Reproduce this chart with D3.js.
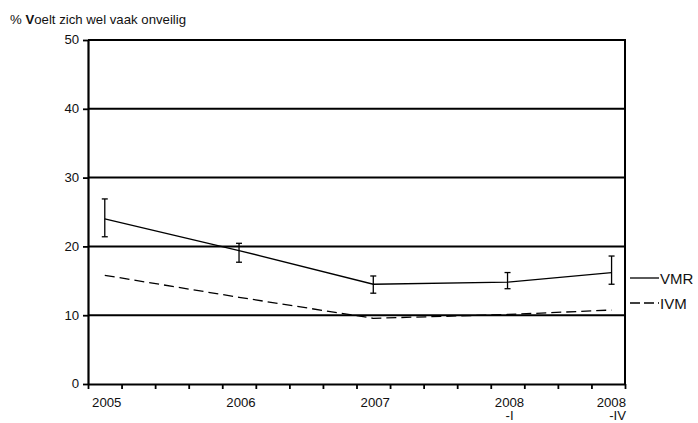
<!DOCTYPE html>
<html>
<head>
<meta charset="utf-8">
<script src="https://cdn.jsdelivr.net/npm/d3@7/dist/d3.min.js"></script>
<style>
  html, body { margin: 0; padding: 0; background: #fff; }
  svg { display: block; }
  text { font-family: "Liberation Sans", Arial, Helvetica, sans-serif; fill: #111; }
</style>
</head>
<body>
<svg id="chart" width="698" height="423"></svg>
<script>
// Survey moments, positioned on a quarterly time axis (quarter index, 2005-Q1 = 0)
const periods = ["2005", "2006", "2007", "2008-I", "2008-IV"];
const periodLines = [["2005"], ["2006"], ["2007"], ["2008", "-I"], ["2008", "-IV"]];
const quarterPos = [0.5, 4.5, 8.5, 12.5, 15.6];

// % feeling unsafe often
const vmr = [24.0, 19.4, 14.5, 14.8, 16.2];
const vmrLow = [21.4, 17.7, 13.2, 13.85, 14.5];
const vmrHigh = [26.9, 20.45, 15.7, 16.2, 18.6];
const ivm = [15.8, 12.6, 9.55, 10.1, 10.75];

const yTicks = [0, 10, 20, 30, 40, 50];
const quarterTicks = d3.range(0, 17);
const seriesNames = ["VMR", "IVM"];

const svg = d3.select("#chart");
svg.append("rect").attr("width", 698).attr("height", 423).attr("fill", "#fff");

const x = d3.scaleLinear().domain([0, 16]).range([88, 625]);
const y = d3.scaleLinear().domain([0, 50]).range([384, 40]);

// Title
const title = svg.append("text")
  .attr("transform", "translate(10,24) scale(1.1,1)")
  .attr("font-size", 12);
title.append("tspan").text("% ");
title.append("tspan").attr("font-weight", "bold").text("V");
title.append("tspan").text("oelt zich wel vaak onveilig");

// Horizontal gridlines
svg.append("g").selectAll("line")
  .data(yTicks.filter(d => d > 0))
  .join("line")
  .attr("x1", x(0)).attr("x2", x(16))
  .attr("y1", d => y(d)).attr("y2", d => y(d))
  .attr("stroke", "#000").attr("stroke-width", 2);

// Right frame edge
svg.append("line")
  .attr("x1", x(16)).attr("x2", x(16))
  .attr("y1", y(50) - 1).attr("y2", y(0))
  .attr("stroke", "#000").attr("stroke-width", 2);

// Y axis
const yAxis = svg.append("g")
  .attr("transform", `translate(${x(0)},0)`)
  .call(d3.axisLeft(y).tickValues(yTicks).tickSize(5).tickSizeOuter(0).tickPadding(3));
yAxis.select(".domain").attr("stroke", "#000").attr("stroke-width", 2.2);
yAxis.selectAll(".tick line").attr("stroke", "#000").attr("stroke-width", 1.8);
yAxis.selectAll(".tick text")
  .attr("font-size", 12).attr("font-family", "Liberation Sans, Arial, sans-serif")
  .attr("fill", "#111")
  .attr("transform", "scale(1.1,1)");

// X axis (quarters)
const xAxis = svg.append("g")
  .attr("transform", `translate(0,${y(0)})`)
  .call(d3.axisBottom(x).tickValues(quarterTicks).tickFormat("").tickSize(5).tickSizeOuter(0));
xAxis.select(".domain").attr("stroke", "#000").attr("stroke-width", 2.2);
xAxis.selectAll(".tick line").attr("stroke", "#000").attr("stroke-width", 1.8);

// Period labels
const labels = svg.append("g");
periodLines.forEach((lines, i) => {
  const last = i === periodLines.length - 1;
  const lx = last ? x(16) + 1 : x(quarterPos[i]) + 2;
  lines.forEach((t, j) => {
    labels.append("text")
      .attr("transform", `translate(${lx},${407 + j * 13}) scale(1.1,1)`)
      .attr("text-anchor", last ? "end" : "middle")
      .attr("font-size", 12)
      .text(t);
  });
});

// IVM dashed line
const line = d3.line().x((d, i) => x(quarterPos[i])).y(d => y(d));
svg.append("path")
  .datum(ivm)
  .attr("d", line)
  .attr("fill", "none").attr("stroke", "#000")
  .attr("stroke-width", 1.3).attr("stroke-dasharray", "10,5");

// VMR solid line
svg.append("path")
  .datum(vmr)
  .attr("d", line)
  .attr("fill", "none").attr("stroke", "#000")
  .attr("stroke-width", 1.3);

// VMR error bars
const eb = svg.append("g").attr("stroke", "#000").attr("stroke-width", 1.3);
vmr.forEach((v, i) => {
  const cx = x(quarterPos[i]);
  eb.append("line").attr("x1", cx).attr("x2", cx).attr("y1", y(vmrLow[i])).attr("y2", y(vmrHigh[i]));
  eb.append("line").attr("x1", cx - 3).attr("x2", cx + 3).attr("y1", y(vmrLow[i])).attr("y2", y(vmrLow[i]));
  eb.append("line").attr("x1", cx - 3).attr("x2", cx + 3).attr("y1", y(vmrHigh[i])).attr("y2", y(vmrHigh[i]));
});

// Legend
const legend = svg.append("g");
const legendY = [278, 303];
seriesNames.forEach((name, i) => {
  legend.append("line")
    .attr("x1", 630).attr("x2", 659)
    .attr("y1", legendY[i]).attr("y2", legendY[i])
    .attr("stroke", "#000").attr("stroke-width", 1.3)
    .attr("stroke-dasharray", i === 1 ? "10,4" : null);
  legend.append("text")
    .attr("x", 660).attr("y", legendY[i] + 5.5)
    .attr("font-size", 15)
    .text(name);
});
</script>
</body>
</html>
